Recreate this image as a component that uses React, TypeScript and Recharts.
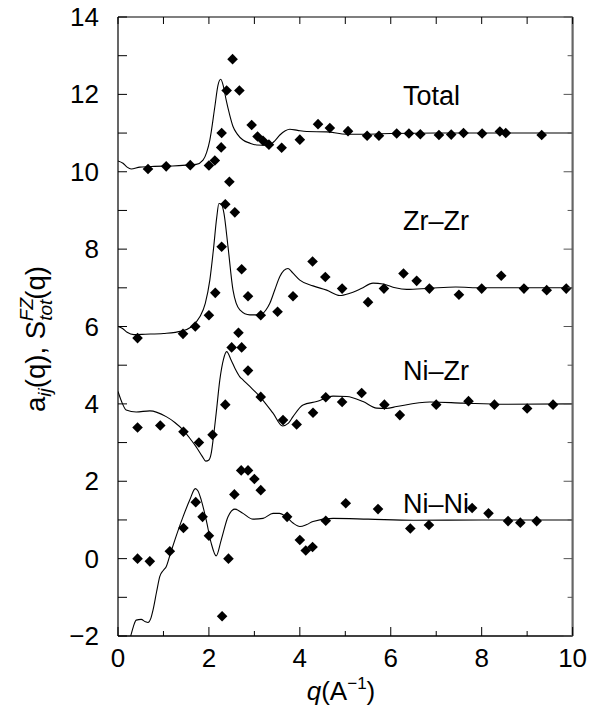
import React from 'react';
import { ComposedChart, Line, Scatter, XAxis, YAxis, ReferenceDot } from 'recharts';

const FONT = "'Liberation Sans', Arial, Helvetica, sans-serif";

const qTicks = [0, 1, 2, 3, 4, 5, 6, 7, 8, 9, 10];
const vTicks = [-2, -1, 0, 1, 2, 3, 4, 5, 6, 7, 8, 9, 10, 11, 12, 13, 14];

// Total: model curve and measured points
const totalLineQ = [0, 0.11, 0.2, 0.29, 0.48, 0.8, 1.2, 1.5, 1.72, 1.87, 1.95, 2.02, 2.13, 2.2, 2.26, 2.32, 2.38, 2.45, 2.53, 2.62, 2.75, 2.9, 3.05, 3.3, 3.45, 3.56, 3.68, 3.78, 3.95, 4.15, 4.59, 5.03, 5.5, 6, 7, 8, 9, 10];
const totalLineV = [10.28, 10.22, 10.12, 10.07, 10.12, 10.14, 10.15, 10.17, 10.19, 10.3, 10.5, 10.82, 11.68, 12.24, 12.39, 12.2, 11.85, 11.5, 11.17, 10.98, 10.82, 10.74, 10.69, 10.68, 10.8, 10.95, 11.06, 11.1, 11.07, 11.04, 11.03, 10.97, 10.97, 10.99, 11, 11, 11, 11];
const totalPtsQ = [0.66, 1.06, 1.59, 2.0, 2.13, 2.27, 2.28, 2.39, 2.52, 2.67, 2.94, 3.07, 3.19, 3.32, 3.6, 4.0, 4.4, 4.66, 5.06, 5.48, 5.74, 6.13, 6.4, 6.65, 7.06, 7.33, 7.6, 8.01, 8.4, 8.53, 9.32];
const totalPtsV = [10.07, 10.14, 10.17, 10.16, 10.29, 10.63, 11.0, 12.1, 12.91, 12.1, 11.21, 10.91, 10.8, 10.7, 10.62, 10.83, 11.23, 11.13, 11.05, 10.93, 10.93, 10.99, 10.99, 10.97, 10.95, 10.96, 11.0, 10.99, 11.04, 11.0, 10.95];

// Zr–Zr
const zrzrLineQ = [0, 0.1, 0.2, 0.35, 0.6, 1.0, 1.4, 1.6, 1.8, 1.92, 2.02, 2.1, 2.17, 2.22, 2.28, 2.33, 2.42, 2.53, 2.68, 2.9, 3.12, 3.25, 3.34, 3.45, 3.56, 3.65, 3.74, 3.85, 4.0, 4.29, 4.59, 4.88, 5.1, 5.35, 5.61, 5.83, 6.1, 6.35, 6.86, 7.43, 8, 9, 10];
const zrzrLineV = [6.0, 5.95, 5.85, 5.79, 5.8, 5.82, 5.88, 5.98, 6.25, 6.6, 7.2, 8.0, 8.8, 9.18, 9.15, 8.93, 8.06, 6.94, 6.43, 6.3, 6.3, 6.42, 6.6, 6.95, 7.29, 7.45, 7.5, 7.38, 7.2, 7.05, 6.94, 6.8, 6.86, 6.98, 7.12, 7.1, 7.0, 6.96, 6.99, 7.02, 7.0, 7.0, 7.0];
const zrzrPtsQ = [0.43, 1.43, 1.7, 2.0, 2.14, 2.28, 2.36, 2.45, 2.57, 2.72, 2.86, 3.14, 3.51, 3.85, 4.28, 4.56, 4.93, 5.5, 5.85, 6.28, 6.57, 6.85, 7.5, 8.0, 8.43, 8.93, 9.43, 9.86];
const zrzrPtsV = [5.7, 5.81, 6.0, 6.29, 6.87, 8.06, 9.16, 9.74, 8.95, 7.48, 6.78, 6.29, 6.38, 6.78, 7.68, 7.28, 6.98, 6.63, 6.98, 7.37, 7.18, 6.98, 6.82, 6.98, 7.31, 6.98, 6.94, 6.98];

// Ni–Zr
const nizrLineQ = [0, 0.1, 0.18, 0.4, 0.7, 1.06, 1.25, 1.43, 1.6, 1.72, 1.85, 1.93, 2.0, 2.05, 2.1, 2.16, 2.24, 2.32, 2.39, 2.49, 2.58, 2.68, 2.75, 2.9, 3.12, 3.41, 3.62, 3.75, 3.85, 4.07, 4.37, 4.73, 5.03, 5.39, 5.69, 5.9, 6.13, 6.86, 7.59, 8.5, 10];
const nizrLineV = [4.32, 4.0, 3.84, 3.79, 3.82, 3.67, 3.52, 3.33, 3.08, 2.89, 2.65, 2.52, 2.55, 2.72, 3.15, 3.76, 4.62, 5.15, 5.35, 5.13, 4.9, 4.7, 4.62, 4.45, 4.19, 3.76, 3.43, 3.5, 3.67, 3.97, 4.06, 4.2, 4.19, 4.06, 3.89, 3.88, 3.93, 4.05, 4.02, 3.99, 4.0];
const nizrPtsQ = [0.43, 0.93, 1.44, 1.78, 2.08, 2.36, 2.5, 2.65, 2.72, 2.86, 3.14, 3.63, 3.93, 4.29, 4.57, 4.93, 5.36, 5.86, 6.2, 7.0, 7.71, 8.28, 9.0, 9.57];
const nizrPtsV = [3.39, 3.44, 3.28, 3.0, 3.2, 3.98, 5.46, 5.84, 5.46, 4.86, 4.18, 3.58, 3.47, 3.77, 4.17, 4.05, 4.28, 3.98, 3.71, 3.98, 4.07, 3.98, 3.88, 3.98];

// Ni–Ni
const ninilineQ = [0.22, 0.28, 0.34, 0.4, 0.51, 0.6, 0.66, 0.72, 0.77, 0.85, 0.92, 1.0, 1.06, 1.15, 1.25, 1.43, 1.58, 1.7, 1.76, 1.83, 1.94, 2.05, 2.16, 2.27, 2.42, 2.57, 2.75, 2.97, 3.19, 3.41, 3.55, 3.7, 3.85, 4.0, 4.15, 4.29, 4.73, 5.5, 6.5, 8, 10];
const ninilineV = [-2.25, -2.0, -1.75, -1.59, -1.57, -1.63, -1.65, -1.55, -1.33, -0.85, -0.46, -0.3, -0.21, 0.12, 0.48, 1.08, 1.52, 1.81, 1.75, 1.52, 1.0, 0.4, 0.07, 0.48, 1.08, 1.28, 1.17, 1.02, 1.04, 1.17, 1.17, 1.08, 0.92, 0.83, 0.88, 0.96, 1.04, 1.02, 0.99, 1.0, 1.0];
const niniPtsQ = [0.43, 0.7, 1.14, 1.44, 1.71, 1.86, 2.0, 2.29, 2.43, 2.56, 2.71, 2.86, 3.0, 3.14, 3.72, 4.0, 4.13, 4.28, 4.57, 5.01, 5.72, 6.43, 6.84, 7.79, 8.15, 8.58, 8.85, 9.21];
const niniPtsV = [0.0, -0.07, 0.19, 0.79, 1.46, 1.08, 0.59, -1.49, 0.0, 1.66, 2.28, 2.28, 2.06, 1.77, 1.08, 0.48, 0.21, 0.3, 0.98, 1.43, 1.28, 0.78, 0.87, 1.31, 1.17, 0.97, 0.93, 0.97];

// Curve labels (left edge q, baseline value)
const labelTexts = ['Total', 'Zr\u2013Zr', 'Ni\u2013Zr', 'Ni\u2013Ni'];
const labelQ = [6.27, 6.27, 6.27, 6.27];
const labelV = [11.73, 8.49, 4.62, 1.18];

const pts = (qs: number[], vs: number[]) => qs.map((q, i) => ({ q, v: vs[i] }));

const lines = [
  pts(totalLineQ, totalLineV),
  pts(zrzrLineQ, zrzrLineV),
  pts(nizrLineQ, nizrLineV),
  pts(ninilineQ, ninilineV),
];
const scatters = [
  pts(totalPtsQ, totalPtsV),
  pts(zrzrPtsQ, zrzrPtsV),
  pts(nizrPtsQ, nizrPtsV),
  pts(niniPtsQ, niniPtsV),
];

const Diamond = (props: any) => {
  const { cx, cy } = props;
  if (cx == null || cy == null) return null;
  const r = 5.3;
  return <polygon points={`${cx},${cy - r} ${cx + r},${cy} ${cx},${cy + r} ${cx - r},${cy}`} fill="#000" />;
};

const fmt = (v: number) => (v < 0 ? '\u2212' + Math.abs(v) : String(v));

const BottomTick = (props: any) => {
  const { x, y, payload } = props;
  const v = payload.value;
  const major = v % 2 === 0;
  return (
    <g>
      <line x1={x} x2={x} y1={y} y2={y - (major ? 9 : 5)} stroke="#000" strokeWidth={1} />
      {major && (
        <text x={x} y={y + 31} textAnchor="middle" fontFamily={FONT} fontSize={26} fill="#000">
          {fmt(v)}
        </text>
      )}
    </g>
  );
};

const TopTick = (props: any) => {
  const { x, y } = props;
  return <line x1={x} x2={x} y1={y} y2={y + 7} stroke="#000" strokeWidth={1} />;
};

const LeftTick = (props: any) => {
  const { x, y, payload } = props;
  const v = payload.value;
  const major = v % 2 === 0;
  return (
    <g>
      <line x1={x} x2={x + 9} y1={y} y2={y} stroke="#000" strokeWidth={1} />
      {major && (
        <text x={x - 19} y={y + 9} textAnchor="end" fontFamily={FONT} fontSize={26} fill="#000">
          {fmt(v)}
        </text>
      )}
    </g>
  );
};

const RightTick = (props: any) => {
  const { x, y, payload } = props;
  const major = payload.value % 2 === 0;
  return <line x1={x} x2={x - (major ? 9 : 5)} y1={y} y2={y} stroke="#555" strokeWidth={1} />;
};

const XLabel = () => (
  <text x={333} y={700} textAnchor="middle" fontFamily={FONT} fontSize={26} fill="#000">
    <tspan fontStyle="italic">q</tspan>
    <tspan>(A</tspan>
    <tspan dy={-11} fontSize={17}>{'\u22121'}</tspan>
    <tspan dy={11}>)</tspan>
  </text>
);

const YLabel = () => {
  const cx = 37;
  const cy = 339;
  return (
    <text
      x={cx}
      y={cy}
      transform={`rotate(-90, ${cx}, ${cy})`}
      textAnchor="middle"
      fontFamily={FONT}
      fontSize={27.5}
      fill="#000"
    >
      <tspan>a</tspan>
      <tspan dy={6} fontSize={19} fontStyle="italic">ij</tspan>
      <tspan dy={-6}>(q),  S</tspan>
      <tspan dy={-12} fontSize={19} fontStyle="italic">FZ</tspan>
      <tspan dx={-23} dy={19} fontSize={19} fontStyle="italic">tot</tspan>
      <tspan dy={-7}>(q)</tspan>
    </text>
  );
};

const makeLabelShape = (text: string) => (props: any) => {
  const { cx, cy } = props;
  return (
    <text x={cx} y={cy} textAnchor="start" fontFamily={FONT} fontSize={27} fill="#000">
      {text}
    </text>
  );
};

export default function App() {
  return (
    <div style={{ marginTop: -8, width: 587, height: 708 }}>
      <ComposedChart width={587} height={708} margin={{ top: 16, right: 21.4, bottom: 0, left: 0 }}>
        <XAxis
          xAxisId="b"
          dataKey="q"
          type="number"
          domain={[0, 10]}
          ticks={qTicks}
          interval={0}
          allowDataOverflow
          orientation="bottom"
          height={72}
          tickSize={0}
          tickMargin={0}
          tickLine={false}
          axisLine={{ stroke: '#000', strokeWidth: 1.6 }}
          tick={<BottomTick />}
          label={<XLabel />}
        />
        <XAxis
          xAxisId="t"
          dataKey="q"
          type="number"
          domain={[0, 10]}
          ticks={qTicks}
          interval={0}
          allowDataOverflow
          orientation="top"
          height={1}
          tickSize={0}
          tickMargin={0}
          tickLine={false}
          axisLine={{ stroke: '#000', strokeWidth: 1.2 }}
          tick={<TopTick />}
        />
        <YAxis
          yAxisId="l"
          dataKey="v"
          type="number"
          domain={[-2, 14]}
          ticks={vTicks}
          interval={0}
          allowDataOverflow
          orientation="left"
          width={110}
          tickSize={0}
          tickMargin={0}
          tickLine={false}
          axisLine={{ stroke: '#000', strokeWidth: 1.2 }}
          tick={<LeftTick />}
          label={<YLabel />}
        />
        <YAxis
          yAxisId="r"
          dataKey="v"
          type="number"
          domain={[-2, 14]}
          ticks={vTicks}
          interval={0}
          allowDataOverflow
          orientation="right"
          width={1}
          tickSize={0}
          tickMargin={0}
          tickLine={false}
          axisLine={{ stroke: '#666', strokeWidth: 2.2 }}
          tick={<RightTick />}
        />
        {lines.map((d, i) => (
          <Line
            key={'l' + i}
            xAxisId="b"
            yAxisId="l"
            data={d}
            dataKey="v"
            type="monotone"
            stroke="#000"
            strokeWidth={1.1}
            dot={false}
            activeDot={false}
            isAnimationActive={false}
          />
        ))}
        {scatters.map((d, i) => (
          <Scatter
            key={'s' + i}
            xAxisId="b"
            yAxisId="l"
            data={d}
            dataKey="v"
            fill="#000"
            shape={<Diamond />}
            isAnimationActive={false}
          />
        ))}
        {labelTexts.map((t, i) => (
          <ReferenceDot
            key={'t' + i}
            xAxisId="b"
            yAxisId="l"
            x={labelQ[i]}
            y={labelV[i]}
            r={0}
            shape={makeLabelShape(t)}
          />
        ))}
      </ComposedChart>
    </div>
  );
}
